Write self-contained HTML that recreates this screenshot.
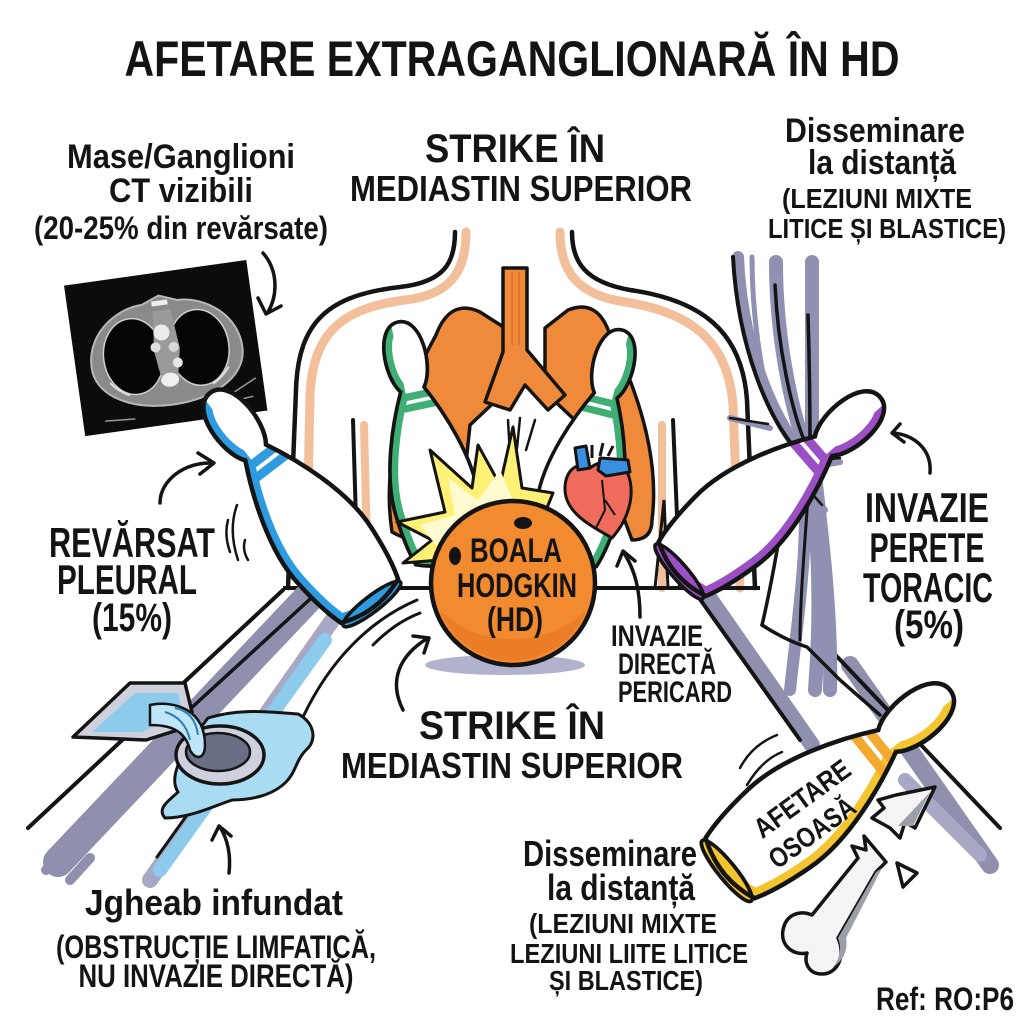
<!DOCTYPE html>
<html><head><meta charset="utf-8">
<style>
html,body{margin:0;padding:0;background:#fff;}
svg{display:block;}
text{font-family:"Liberation Sans Narrow","Liberation Sans","DejaVu Sans Condensed",sans-serif;font-weight:bold;fill:#141414;}
</style></head>
<body>
<svg width="1024" height="1024" viewBox="0 0 1024 1024" xmlns="http://www.w3.org/2000/svg">
<defs>
  <path id="pin" d="M -13,75 C -28,55 -26,0 0,0 C 26,0 28,55 13,75 C 28,105 50,160 46,205 C 44,230 40,250 36,262 C 12,272 -12,272 -36,262 C -40,250 -44,230 -46,205 C -50,160 -28,105 -13,75 Z"/>
  <clipPath id="pinclip"><use href="#pin"/></clipPath>
  <clipPath id="leftHalf"><rect x="-80" y="-20" width="72" height="320"/></clipPath>
  <clipPath id="rightHalf"><rect x="8" y="-20" width="72" height="320"/></clipPath>
</defs>
<rect width="1024" height="1024" fill="#fff"/>

<!-- TITLE -->
<text x="512" y="76" font-size="50" text-anchor="middle" textLength="775" lengthAdjust="spacingAndGlyphs">AFETARE EXTRAGANGLIONARĂ ÎN HD</text>

<!-- top-left text -->
<text x="181" y="168" font-size="34" text-anchor="middle" textLength="228" lengthAdjust="spacingAndGlyphs" style="font-weight:600">Mase/Ganglioni</text>
<text x="181" y="202" font-size="34" text-anchor="middle" textLength="144" lengthAdjust="spacingAndGlyphs" style="font-weight:600">CT vizibili</text>
<text x="181" y="239" font-size="32" text-anchor="middle" textLength="294" lengthAdjust="spacingAndGlyphs" style="font-weight:600">(20-25% din revărsate)</text>

<!-- top center -->
<text x="515" y="162" font-size="40" text-anchor="middle" textLength="180" lengthAdjust="spacingAndGlyphs">STRIKE ÎN</text>
<text x="521" y="201" font-size="36" text-anchor="middle" textLength="342" lengthAdjust="spacingAndGlyphs" style="font-weight:600">MEDIASTIN SUPERIOR</text>

<!-- top right -->
<text x="875" y="142" font-size="34" text-anchor="middle" textLength="180" lengthAdjust="spacingAndGlyphs" style="font-weight:600">Disseminare</text>
<text x="882" y="174" font-size="34" text-anchor="middle" textLength="148" lengthAdjust="spacingAndGlyphs" style="font-weight:600">la distanță</text>
<text x="877" y="208" font-size="28" text-anchor="middle" textLength="190" lengthAdjust="spacingAndGlyphs">(LEZIUNI MIXTE</text>
<text x="887" y="238" font-size="28" text-anchor="middle" textLength="238" lengthAdjust="spacingAndGlyphs">LITICE ȘI BLASTICE)</text>

<!-- arrow from CT label -->
<path d="M 263,253 C 278,270 278,295 268,312" fill="none" stroke="#141414" stroke-width="3.5" stroke-linecap="round"/>
<path d="M 258,298 L 266,314 L 281,306" fill="none" stroke="#141414" stroke-width="3.5" stroke-linecap="round" stroke-linejoin="round"/>

<!-- CT image -->
<g transform="translate(166,350) rotate(-8)">
  <rect x="-92" y="-78" width="184" height="152" fill="#0c0c0c"/>
  <path d="M -76,10 C -78,-25 -45,-48 -18,-48 L 0,-55 L 18,-48 C 45,-48 78,-25 76,10 C 74,38 40,55 0,55 C -40,55 -74,38 -76,10 Z" fill="#8a8a8a" stroke="#b8b8b8" stroke-width="2"/>
  <ellipse cx="-33" cy="2" rx="30" ry="38" fill="#050505" stroke="#cfcfcf" stroke-width="1.5"/>
  <ellipse cx="33" cy="2" rx="30" ry="38" fill="#050505" stroke="#cfcfcf" stroke-width="1.5"/>
  <path d="M -8,-40 L 10,-40 L 14,0 L 8,30 L -8,30 L -12,0 Z" fill="#9a9a9a"/>
  <circle cx="-2" cy="-18" r="8" fill="#ececec"/>
  <circle cx="-10" cy="-4" r="5" fill="#e0e0e0"/>
  <circle cx="8" cy="-2" r="5" fill="#d8d8d8"/>
  <circle cx="10" cy="14" r="5" fill="#e6e6e6"/>
  <ellipse cx="0" cy="30" rx="9" ry="7" fill="#f0f0f0"/>
  <rect x="-8" y="-50" width="16" height="5" fill="#eee"/>
  <path d="M -60,25 Q -52,35 -42,40" stroke="#ddd" stroke-width="2" fill="none"/>
  <path d="M 60,25 Q 52,35 42,40" stroke="#ddd" stroke-width="2" fill="none"/>
  <path d="M -70,62 L -40,64 M 60,52 L 85,40 M 55,60 L 80,58" stroke="#999" stroke-width="1.5"/>
</g>

<!-- BODY outline -->
<g fill="none" stroke-linecap="round">
  <path d="M 466,232 C 466,272 450,295 405,300 C 345,308 313,330 310,395 L 306,588" stroke="#f2bf9a" stroke-width="9"/>
  <path d="M 455,232 C 455,262 445,282 400,287 C 330,295 298,320 296,390 L 288,588" stroke="#141414" stroke-width="4.5"/>
  <path d="M 560,232 C 560,272 578,295 625,302 C 690,312 728,340 733,405 L 740,588" stroke="#f2bf9a" stroke-width="9"/>
  <path d="M 572,232 C 572,262 585,282 630,290 C 700,300 742,330 747,400 L 755,588" stroke="#141414" stroke-width="4.5"/>
  <path d="M 364,425 L 368,588" stroke="#f2bf9a" stroke-width="8"/>
  <path d="M 353,420 L 358,588" stroke="#141414" stroke-width="4"/>
  <path d="M 662,425 L 662,588" stroke="#f2bf9a" stroke-width="8"/>
  <path d="M 673,420 L 680,588" stroke="#141414" stroke-width="4"/>
  <path d="M 655,588 L 664,500 L 668,588" stroke="#141414" stroke-width="3"/>
</g>

<!-- LUNGS -->
<g stroke="#141414" stroke-width="3.5" stroke-linejoin="round">
  <path d="M 436,335 Q 450,298 480,312 L 505,328 L 505,392 L 470,425 L 458,540 Q 420,548 392,532 Q 378,440 436,335 Z" fill="#ef8a3a"/>
  <path d="M 610,335 Q 598,298 568,310 L 545,328 L 545,392 L 580,425 L 606,470 L 632,540 Q 652,540 652,520 Q 662,440 610,335 Z" fill="#ef8a3a"/>
  <path d="M 503,268 L 527,268 L 527,350 L 565,395 L 548,410 L 525,385 L 510,410 L 485,402 L 503,352 Z" fill="#ef8a3a"/>
</g>
<path d="M 512,272 L 512,345 M 519,272 L 519,345" stroke="#c9621f" stroke-width="1.5" opacity=".6"/>

<!-- GREEN PINS -->
<g transform="translate(398,322) rotate(-12) scale(0.92)">
  <use href="#pin" fill="#fff"/>
  <g clip-path="url(#pinclip)"><g clip-path="url(#leftHalf)"><use href="#pin" fill="none" stroke="#3fae74" stroke-width="18"/></g>
    <rect x="-50" y="78" width="100" height="8" fill="#3fae74"/><rect x="-50" y="90" width="100" height="8" fill="#3fae74"/></g>
  <use href="#pin" fill="none" stroke="#141414" stroke-width="4"/>
</g>
<g transform="translate(622,330) rotate(14) scale(0.9)">
  <use href="#pin" fill="#fff"/>
  <g clip-path="url(#pinclip)"><g clip-path="url(#rightHalf)"><use href="#pin" fill="none" stroke="#3fae74" stroke-width="18"/></g>
    <rect x="-50" y="78" width="100" height="8" fill="#3fae74"/><rect x="-50" y="90" width="100" height="8" fill="#3fae74"/></g>
  <use href="#pin" fill="none" stroke="#141414" stroke-width="4"/>
</g>
<!-- motion dashes center -->
<path d="M 508,420 L 510,455 M 520,418 L 517,448 M 535,420 L 526,450" stroke="#141414" stroke-width="2.5" stroke-linecap="round"/>

<!-- EXPLOSION -->
<polygon points="397,522 445,512 430,450 472,488 478,445 500,485 513,427 522,488 553,493 540,525 520,560 440,560 403,563 432,540" fill="#fff176" stroke="#141414" stroke-width="3" stroke-linejoin="round"/>
<polygon points="420,525 455,515 448,478 478,500 500,470 515,505 535,505 520,540 440,550" fill="#fffbd0"/>

<!-- HEART -->
<g stroke="#141414" stroke-width="3" stroke-linejoin="round">
  <path d="M 590,468 C 572,458 560,480 567,500 C 574,518 595,528 612,538 C 628,520 636,495 628,474 C 620,456 600,460 590,468 Z" fill="#ef6b5b"/>
  <path d="M 578,470 L 575,448 L 586,446 L 590,468 Z" fill="#3b8fe0"/>
  <path d="M 598,470 L 600,458 L 628,460 L 630,472 L 606,476 Z" fill="#3b8fe0"/>
  <path d="M 592,458 L 592,445 M 600,456 L 603,443 M 608,456 L 613,446" fill="none" stroke-width="3"/>
  <path d="M 602,480 L 605,510 L 596,528 M 605,500 L 615,515" fill="none" stroke-width="2"/>
</g>

<!-- floor line -->
<path d="M 283,588 L 760,588" stroke="#141414" stroke-width="4"/>

<!-- LEFT LANE -->
<g stroke-linecap="round">
  <path d="M 310,596 L 58,862" stroke="#8f90ae" stroke-width="30"/>
  <path d="M 345,602 L 150,880" stroke="#a6a8c4" stroke-width="16"/>
  <path d="M 325,640 L 160,870" stroke="#8ccbec" stroke-width="14"/>
  <path d="M 283,590 L 28,828" stroke="#141414" stroke-width="4"/>
  <path d="M 320,590 L 176,722" stroke="#141414" stroke-width="3.5"/>
  <path d="M 207,787 L 157,857" stroke="#141414" stroke-width="3"/>
  <path d="M 70,850 L 46,870 M 90,858 L 70,880" stroke="#8f90ae" stroke-width="10"/>
</g>

<!-- DRAIN + WATER -->
<path d="M 208,718 C 240,708 268,712 298,714 C 314,722 318,740 306,750 C 296,760 296,772 286,782 C 272,796 250,800 232,800 C 214,806 190,818 165,818 C 156,808 170,800 178,792 C 170,780 175,760 208,718 Z" fill="#a9dcf3" stroke="#141414" stroke-width="3"/>
<path d="M 73,737 L 130,683 L 185,683 L 192,712 L 178,730 L 146,740 Z" fill="#cfd0dd" stroke="#141414" stroke-width="3.5" stroke-linejoin="round"/>
<path d="M 92,732 L 135,693 L 178,693 L 182,712 L 142,732 Z" fill="#8ccbec"/>
<ellipse cx="220" cy="755" rx="44" ry="29" fill="#cfd0dd" stroke="#141414" stroke-width="3.5"/>
<ellipse cx="218" cy="752" rx="32" ry="19" fill="#6a6f86" stroke="#141414" stroke-width="2.5"/>
<path d="M 150,705 C 175,700 205,710 205,745 C 205,760 195,760 190,750 C 185,730 170,725 150,725 Z" fill="#bfe6f8" stroke="#141414" stroke-width="2.5"/>
<path d="M 165,712 Q 185,718 190,740 M 175,708 Q 195,712 198,735" stroke="#2f7fb0" stroke-width="2" fill="none"/>

<!-- BLUE PIN -->
<g transform="translate(210,393) rotate(-37.5)">
  <use href="#pin" fill="#fff"/>
  <g clip-path="url(#pinclip)"><g clip-path="url(#leftHalf)"><use href="#pin" fill="none" stroke="#2e9be0" stroke-width="18"/></g>
    <rect x="-50" y="78" width="100" height="9" fill="#2e9be0"/><rect x="-50" y="91" width="100" height="9" fill="#2e9be0"/></g>
  <ellipse cx="0" cy="266" rx="36" ry="8" fill="#2e9be0" stroke="#141414" stroke-width="3.5"/>
  <use href="#pin" fill="none" stroke="#141414" stroke-width="4.5"/>
</g>
<!-- motion lines blue pin -->
<path d="M 237,505 Q 228,530 238,560 M 228,520 Q 224,535 230,552 M 245,540 Q 242,550 248,560" fill="none" stroke="#141414" stroke-width="2.5" stroke-linecap="round"/>

<!-- REVĂRSAT label + arrow -->
<text x="132" y="557" font-size="42" text-anchor="middle" textLength="166" lengthAdjust="spacingAndGlyphs" style="font-weight:600">REVĂRSAT</text>
<text x="127" y="594" font-size="42" text-anchor="middle" textLength="140" lengthAdjust="spacingAndGlyphs" style="font-weight:600">PLEURAL</text>
<text x="132" y="631" font-size="40" text-anchor="middle" textLength="80" lengthAdjust="spacingAndGlyphs" style="font-weight:600">(15%)</text>
<path d="M 160,503 C 160,480 185,462 212,463" fill="none" stroke="#141414" stroke-width="3.5" stroke-linecap="round"/>
<path d="M 198,453 L 214,463 L 200,474" fill="none" stroke="#141414" stroke-width="3.5" stroke-linecap="round" stroke-linejoin="round"/>

<!-- RIGHT LANE -->
<g stroke-linecap="round">
  <path d="M 708,596 L 812,745" stroke="#8f90ae" stroke-width="16"/>
  <path d="M 692,588 L 800,740" stroke="#141414" stroke-width="4"/>
  <path d="M 850,665 L 990,865" stroke="#8f90ae" stroke-width="18"/>
  <path d="M 826,645 L 1000,828" stroke="#141414" stroke-width="4"/>
  <path d="M 905,780 L 980,855" stroke="#a6a8c4" stroke-width="14"/>
</g>

<!-- CURTAIN -->
<g fill="none" stroke-linecap="round">
  <path d="M 738,257 C 742,350 775,420 800,450 C 812,520 800,600 790,690" stroke="#8f90b2" stroke-width="12"/>
  <path d="M 752,257 C 752,320 762,370 768,400" stroke="#8f90b2" stroke-width="5"/>
  <path d="M 776,262 C 776,340 792,410 806,450 C 818,520 822,600 815,690" stroke="#8f90b2" stroke-width="14"/>
  <path d="M 812,262 C 812,340 812,410 812,450 C 820,520 832,610 830,690" stroke="#8f90b2" stroke-width="14"/>
  <path d="M 733,257 C 738,350 770,420 795,448" stroke="#141414" stroke-width="4"/>
  <path d="M 775,285 C 778,350 792,410 804,440" stroke="#141414" stroke-width="3.5"/>
  <path d="M 808,315 C 810,380 810,420 810,445" stroke="#141414" stroke-width="3.5"/>
  <path d="M 790,470 C 780,540 768,600 762,625" stroke="#141414" stroke-width="3.5"/>
  <path d="M 810,470 C 805,540 800,600 800,640" stroke="#141414" stroke-width="3"/>
  <path d="M 762,625 Q 785,640 807,647 L 840,680 L 880,715" stroke="#141414" stroke-width="3.5"/>
  <path d="M 730,418 L 770,428 M 805,468 L 840,462 M 808,485 L 825,510" stroke="#8f90b2" stroke-width="6"/>
  <path d="M 730,418 L 768,424 M 805,462 L 840,458 M 800,480 L 822,505" stroke="#141414" stroke-width="2.5"/>
</g>

<!-- PURPLE PIN -->
<g transform="translate(880,397) rotate(49)">
  <use href="#pin" fill="#fff"/>
  <g clip-path="url(#pinclip)"><g clip-path="url(#rightHalf)"><use href="#pin" fill="none" stroke="#9a4fc4" stroke-width="18"/></g>
    <rect x="-50" y="78" width="100" height="9" fill="#9a4fc4"/><rect x="-50" y="91" width="100" height="9" fill="#9a4fc4"/></g>
  <ellipse cx="0" cy="266" rx="36" ry="8" fill="#9a4fc4" stroke="#141414" stroke-width="3.5"/>
  <use href="#pin" fill="none" stroke="#141414" stroke-width="4.5"/>
</g>

<!-- INVAZIE PERETE -->
<text x="927" y="522" font-size="42" text-anchor="middle" textLength="124" lengthAdjust="spacingAndGlyphs" style="font-weight:600">INVAZIE</text>
<text x="927" y="562" font-size="42" text-anchor="middle" textLength="115" lengthAdjust="spacingAndGlyphs" style="font-weight:600">PERETE</text>
<text x="928" y="602" font-size="42" text-anchor="middle" textLength="130" lengthAdjust="spacingAndGlyphs" style="font-weight:600">TORACIC</text>
<text x="929" y="638" font-size="40" text-anchor="middle" textLength="70" lengthAdjust="spacingAndGlyphs" style="font-weight:600">(5%)</text>
<path d="M 930,473 C 932,450 915,435 893,433" fill="none" stroke="#141414" stroke-width="3.5" stroke-linecap="round"/>
<path d="M 900,424 L 892,433 L 904,442" fill="none" stroke="#141414" stroke-width="3.5" stroke-linecap="round" stroke-linejoin="round"/>

<!-- BALL -->
<ellipse cx="505" cy="665" rx="80" ry="10" fill="#a3a5c4" opacity=".85"/>
<circle cx="513" cy="583" r="82" fill="#f28a30" stroke="#141414" stroke-width="4.5"/>
<path d="M 440,610 A 78,78 0 0 0 586,610 A 90,70 0 0 1 440,610 Z" fill="#e46f1d" opacity=".5"/>
<ellipse cx="523" cy="523" rx="9" ry="6" fill="#141414"/>
<ellipse cx="455" cy="556" rx="6" ry="9" fill="#141414"/>
<text x="516" y="562" font-size="34" text-anchor="middle" textLength="92" lengthAdjust="spacingAndGlyphs" style="font-weight:600">BOALA</text>
<text x="517" y="597" font-size="34" text-anchor="middle" textLength="120" lengthAdjust="spacingAndGlyphs" style="font-weight:600">HODGKIN</text>
<text x="515" y="631" font-size="34" text-anchor="middle" textLength="56" lengthAdjust="spacingAndGlyphs" style="font-weight:600">(HD)</text>

<!-- pericard arrow + label -->
<path d="M 640,617 C 640,590 635,570 624,553" fill="none" stroke="#141414" stroke-width="3.5" stroke-linecap="round"/>
<path d="M 617,566 L 623,551 L 635,561" fill="none" stroke="#141414" stroke-width="3.5" stroke-linecap="round" stroke-linejoin="round"/>
<text x="657" y="646" font-size="30" text-anchor="middle" textLength="92" lengthAdjust="spacingAndGlyphs" style="font-weight:600">INVAZIE</text>
<text x="667" y="674" font-size="30" text-anchor="middle" textLength="98" lengthAdjust="spacingAndGlyphs" style="font-weight:600">DIRECTĂ</text>
<text x="675" y="702" font-size="30" text-anchor="middle" textLength="114" lengthAdjust="spacingAndGlyphs" style="font-weight:600">PERICARD</text>

<!-- motion lines near ball + arrow -->
<path d="M 303,717 C 330,660 370,620 417,600" fill="none" stroke="#141414" stroke-width="3" stroke-linecap="round"/>
<path d="M 373,645 C 388,630 402,620 420,613" fill="none" stroke="#141414" stroke-width="3" stroke-linecap="round"/>
<path d="M 403,710 C 388,680 400,655 428,638" fill="none" stroke="#141414" stroke-width="3.5" stroke-linecap="round"/>
<path d="M 413,636 L 429,638 L 424,653" fill="none" stroke="#141414" stroke-width="3.5" stroke-linecap="round" stroke-linejoin="round"/>

<!-- STRIKE lower -->
<text x="512" y="739" font-size="40" text-anchor="middle" textLength="186" lengthAdjust="spacingAndGlyphs">STRIKE ÎN</text>
<text x="512" y="778" font-size="36" text-anchor="middle" textLength="342" lengthAdjust="spacingAndGlyphs" style="font-weight:600">MEDIASTIN SUPERIOR</text>

<!-- Jgheab arrow + text -->
<path d="M 229,873 C 231,855 228,840 220,827" fill="none" stroke="#141414" stroke-width="3.5" stroke-linecap="round"/>
<path d="M 212,840 L 219,826 L 231,836" fill="none" stroke="#141414" stroke-width="3.5" stroke-linecap="round" stroke-linejoin="round"/>
<text x="214" y="915" font-size="36" text-anchor="middle" textLength="258" lengthAdjust="spacingAndGlyphs" style="font-weight:600">Jgheab infundat</text>
<text x="216" y="958" font-size="32" text-anchor="middle" textLength="320" lengthAdjust="spacingAndGlyphs" style="font-weight:600">(OBSTRUCȚIE LIMFATICĂ,</text>
<text x="216" y="987" font-size="32" text-anchor="middle" textLength="275" lengthAdjust="spacingAndGlyphs" style="font-weight:600">NU INVAZIE DIRECTĂ)</text>

<!-- YELLOW PIN -->
<g transform="translate(950,690) rotate(51) scale(1.08)">
  <use href="#pin" fill="#fff"/>
  <g clip-path="url(#pinclip)"><g clip-path="url(#rightHalf)"><use href="#pin" fill="none" stroke="#f4c531" stroke-width="18"/></g>
    <rect x="-50" y="78" width="100" height="9" fill="#f3a92e"/><rect x="-50" y="91" width="100" height="9" fill="#f3a92e"/></g>
  <ellipse cx="0" cy="266" rx="36" ry="8" fill="#f4c531" stroke="#141414" stroke-width="3.5"/>
  <use href="#pin" fill="none" stroke="#141414" stroke-width="4.2"/>
</g>
<text x="803" y="808" font-size="28" text-anchor="middle" transform="rotate(-36 803 800)" textLength="112" lengthAdjust="spacingAndGlyphs" style="font-weight:600">AFETARE</text>
<text x="813" y="842" font-size="28" text-anchor="middle" transform="rotate(-36 813 834)" textLength="100" lengthAdjust="spacingAndGlyphs" style="font-weight:600">OSOASĂ</text>
<path d="M 740,768 Q 752,745 777,735 M 747,785 Q 762,760 782,752" fill="none" stroke="#141414" stroke-width="2.5" stroke-linecap="round"/>

<!-- BONE -->
<g stroke="#141414" stroke-width="3.5" stroke-linejoin="round">
  <path d="M 812,915 L 858,858 L 852,846 L 866,850 L 864,836 L 886,862 L 876,872 L 838,938 C 846,955 838,974 822,974 C 808,974 804,962 807,953 C 794,956 780,946 783,930 C 786,914 800,910 812,915 Z" fill="#f4f4f6"/>
  <path d="M 876,872 L 838,938 C 842,948 840,960 832,968 C 845,960 848,948 846,938 L 882,868 Z" fill="#9c9ea8" stroke="none"/>
  <path d="M 872,818 L 884,808 L 878,800 L 896,795 L 935,787 L 915,828 L 905,822 L 900,838 L 890,828 Z" fill="#f4f4f6"/>
  <path d="M 898,826 L 930,792 L 913,826 Z" fill="#9c9ea8" stroke="none"/>
  <polygon points="897,863 917,873 903,887" fill="#fff"/>
</g>

<!-- bottom right text -->
<text x="610" y="866" font-size="36" text-anchor="middle" textLength="174" lengthAdjust="spacingAndGlyphs" style="font-weight:600">Disseminare</text>
<text x="621" y="900" font-size="36" text-anchor="middle" textLength="148" lengthAdjust="spacingAndGlyphs" style="font-weight:600">la distanță</text>
<text x="623" y="933" font-size="28" text-anchor="middle" textLength="188" lengthAdjust="spacingAndGlyphs">(LEZIUNI MIXTE</text>
<text x="629" y="963" font-size="28" text-anchor="middle" textLength="238" lengthAdjust="spacingAndGlyphs">LEZIUNI LIITE LITICE</text>
<text x="626" y="990" font-size="28" text-anchor="middle" textLength="154" lengthAdjust="spacingAndGlyphs">ȘI BLASTICE)</text>

<text x="945" y="1010" font-size="32" text-anchor="middle" textLength="138" lengthAdjust="spacingAndGlyphs" style="font-weight:600">Ref: RO:P6</text>
</svg>
</body></html>
